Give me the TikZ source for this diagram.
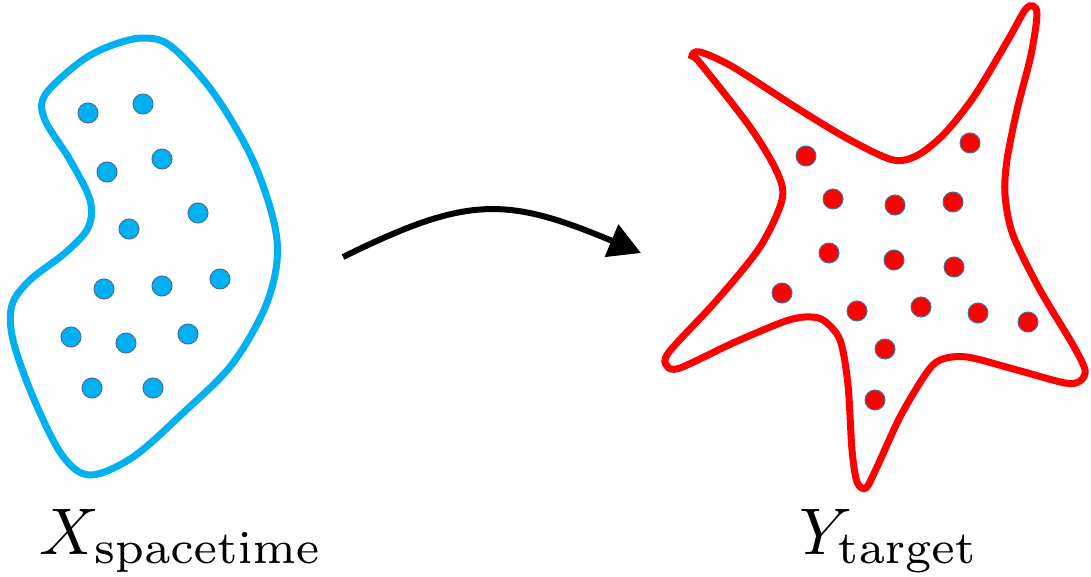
\documentclass[tikz,border=0pt]{standalone}
\usetikzlibrary{arrows.meta}
\definecolor{cyanb}{RGB}{0,176,240}
\definecolor{dotedge}{RGB}{65,113,156}
\definecolor{redr}{RGB}{255,0,0}
\tikzset{
  bdot/.style={circle, fill=cyanb, draw=dotedge, line width=0.5pt, minimum size=10pt, inner sep=0pt},
  rdot/.style={circle, fill=redr, draw=dotedge, line width=0.5pt, minimum size=10pt, inner sep=0pt},
  blob/.style={draw=cyanb, line width=3.5pt},
  star/.style={draw=redr, line width=3.5pt},
  maparrow/.style={draw=black, line width=3pt, -{Triangle[length=16pt,width=17pt]}},
  lab/.style={anchor=base west, inner sep=0pt, scale=3.3}
}
\begin{document}
\begin{tikzpicture}[x=0.5pt,y=-0.5pt]
\useasboundingbox (0,0) rectangle (1091,577);
% blue region
\draw[blob] plot[smooth cycle, tension=0.55] coordinates {
(143,38) (172,47) (215,95) (255,165) (277,240) (268,300) (233,363) (183,413) (133,457) (90,475) (62,455) (33,397) (13,340) (12,305) (30,280) (65,253) (88,228) (90,200) (70,160) (45,120) (45,95) (80,62) (110,46)};
% blue dots
\foreach \n/\x/\y in {1/88/113, 2/143/104, 3/107/172, 4/162/159, 5/129/229, 6/198/213, 7/104/289, 8/162/286, 9/220/279, 10/71/337, 11/126/343, 12/188/334, 13/92/388, 14/153/388}
  \node[bdot] (b\n) at (\x,\y) {};
% red star
\draw[star] plot[smooth cycle, tension=0.5] coordinates {
(1025,10) (1033,6) (1037,15) (1031,55) (1017,110) (1007,160) (1005,195) (1013,235) (1040,290) (1073,345) (1085,370) (1080,381) (1065,383) (1017,370) (967,357) (940,360) (925,375) (900,417) (877,467) (866,488) (857,482) (852,450) (848,385) (840,340) (823,320) (805,317) (783,322) (733,343) (680,368) (667,366) (669,352) (717,300) (760,247) (782,200) (777,172) (750,127) (700,63) (692,56) (700,52) (733,67) (800,110) (850,140) (893,160) (918,155) (945,133) (975,95) (1008,40)};
% red dots
\foreach \n/\x/\y in {1/806/156, 2/970/143, 3/833/199, 4/895/205, 5/953/202, 6/829/253, 7/894/260, 8/954/267, 9/782/293, 10/857/311, 11/921/307, 12/978/313, 13/1028/322, 14/885/349, 15/875/400}
  \node[rdot] (r\n) at (\x,\y) {};
% arrow
\coordinate (a1) at (343,257);
\coordinate (a2) at (641,253);
\draw[maparrow] (a1) .. controls (467,196) and (505,196) .. (a2);
% labels
\node[lab] (xl) at (38,554) {$X_{\mathrm{spacetime}}$};
\node[lab] (yl) at (798,554) {$Y_{\mathrm{target}}$};
\end{tikzpicture}
\end{document}
